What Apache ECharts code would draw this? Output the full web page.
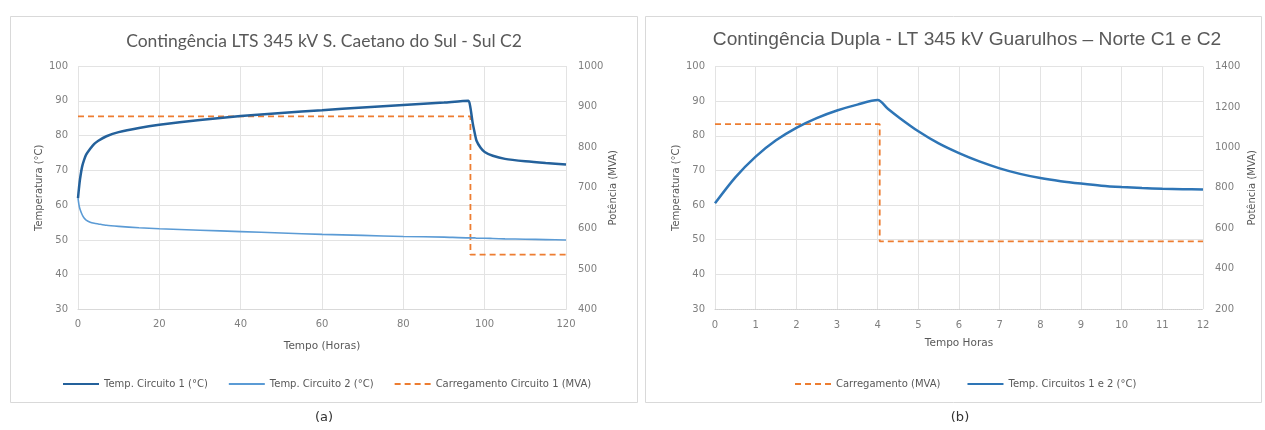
<!DOCTYPE html>
<html>
<head>
<meta charset="utf-8">
<script src="https://cdn.jsdelivr.net/npm/echarts@6/dist/echarts.min.js"></script>
<style>
html,body{margin:0;padding:0;background:#fff;}
#c{width:1265px;height:430px;}
</style>
</head>
<body>
<div id="c"></div>
<script>
// ---- Data: chart (a) ----
const titleA = 'Contingência LTS 345 kV S. Caetano do Sul - Sul C2';
const timeA = [0,0.25,0.5,1,1.5,2,3,4,5,7,10,15,20,30,40,50,60,70,80,90,96,96.5,97,97.5,98,99,100,102,105,110,115,120];
const temp1A = [62,65,67.5,71,73,74.5,76.2,77.6,78.5,79.8,81,82.2,83.1,84.5,85.6,86.5,87.3,88.1,88.8,89.5,90,88,84,81,78.5,76.5,75.3,74.2,73.3,72.6,72.1,71.7];
const temp2A = [62,60,58.8,57.3,56.3,55.7,55.1,54.8,54.6,54.2,53.9,53.5,53.2,52.8,52.4,52,51.6,51.3,51,50.8,50.6,50.6,50.6,50.6,50.5,50.5,50.5,50.4,50.3,50.2,50.1,50];
const loadTimeA = [0,96.5,96.5,120];
const loadA = [876,876,535,535];
const namesA = ['Temp. Circuito 1 (°C)','Temp. Circuito 2 (°C)','Carregamento Circuito 1 (MVA)'];

// ---- Data: chart (b) ----
const titleB = 'Contingência Dupla - LT 345 kV Guarulhos – Norte C1 e C2';
const timeB = [0,0.5,1,1.5,2,2.5,3,3.5,4,4.25,4.5,5,5.5,6,6.5,7,7.5,8,8.5,9,9.5,10,10.5,11,11.5,12];
const tempB = [60.5,68,74,78.7,82.3,85.1,87.3,89,90.3,87.8,85.5,81.3,77.8,75,72.6,70.6,69,67.8,66.9,66.2,65.6,65.2,64.9,64.7,64.6,64.5];
const loadTimeB = [0,4.05,4.05,12];
const loadB = [1115,1115,535,535];
const namesB = ['Carregamento (MVA)','Temp. Circuitos 1 e 2 (°C)'];

const pairs = (xs, ys) => xs.map((x, i) => [x, ys[i]]);

const FONT = '"DejaVu Sans"';
const LBL = '#7f7f7f';
const NAMEC = '#595959';
const GRID = '#e3e3e3';
const DARK = '#24619b';
const MID = '#2e75b6';
const LIGHT = '#5b9bd5';
const ORANGE = '#ed7d31';

function yTemp(gi){
  return {type:'value', gridIndex:gi, min:30, max:100, interval:10, position:'left',
    name:'Temperatura (°C)', nameLocation:'middle', nameGap:34, nameRotate:90,
    nameTextStyle:{color:NAMEC, fontSize:10, fontFamily:FONT},
    axisLine:{show:false}, axisTick:{show:false},
    axisLabel:{color:LBL, fontSize:10, fontFamily:FONT, margin:10},
    splitLine:{show:true, lineStyle:{color:GRID, width:1}}};
}
function yPow(gi, min, max, iv, gap){
  return {type:'value', gridIndex:gi, min:min, max:max, interval:iv, position:'right',
    name:'Potência (MVA)', nameLocation:'middle', nameGap:gap, nameRotate:90,
    nameTextStyle:{color:NAMEC, fontSize:10, fontFamily:FONT},
    axisLine:{show:false}, axisTick:{show:false},
    axisLabel:{color:LBL, fontSize:10, fontFamily:FONT, margin:12, formatter:(v)=>String(v)},
    splitLine:{show:false}};
}
const legendCommon = {top:374, itemWidth:36, itemHeight:8,
  itemStyle:{opacity:0}, textStyle:{color:NAMEC, fontSize:10, fontFamily:FONT}};

const chart = echarts.init(document.getElementById('c'), null, {renderer:'canvas'});
chart.setOption({
  animation:false,
  backgroundColor:'#fff',
  graphic:[
    {type:'rect', shape:{x:10.5, y:16.5, width:627, height:386}, style:{fill:'none', stroke:'#d9d9d9', lineWidth:1}, silent:true},
    {type:'rect', shape:{x:645.5, y:16.5, width:616, height:386}, style:{fill:'none', stroke:'#d9d9d9', lineWidth:1}, silent:true},
    {type:'text', x:324, y:41, style:{text:titleA, fill:'#595959', font:'17.5px Lato', textAlign:'center', textVerticalAlign:'middle'}},
    {type:'text', x:967, y:40, style:{text:titleB, fill:'#595959', font:'19.2px "Liberation Sans"', textAlign:'center', textVerticalAlign:'middle'}},
    {type:'text', x:324, y:418, style:{text:'(a)', fill:'#333', font:'13px "DejaVu Sans"', textAlign:'center', textVerticalAlign:'middle'}},
    {type:'text', x:960, y:418, style:{text:'(b)', fill:'#333', font:'13px "DejaVu Sans"', textAlign:'center', textVerticalAlign:'middle'}}
  ],
  grid:[
    {left:78, top:66, width:488, height:243.5},
    {left:715, top:66.5, width:488, height:242.5}
  ],
  legend:[
    Object.assign({}, legendCommon, {data:namesA, left:57, itemGap:20}),
    Object.assign({}, legendCommon, {data:namesB, left:789, itemGap:26})
  ],
  xAxis:[
    {type:'value', gridIndex:0, min:0, max:120, interval:20,
     name:'Tempo (Horas)', nameLocation:'middle', nameGap:31,
     nameTextStyle:{color:NAMEC, fontSize:10.5, fontFamily:FONT},
     axisLine:{show:true, lineStyle:{color:'#d9d9d9'}}, axisTick:{show:false},
     axisLabel:{color:LBL, fontSize:10, fontFamily:FONT, margin:10},
     splitLine:{show:true, lineStyle:{color:GRID}}},
    {type:'value', gridIndex:1, min:0, max:12, interval:1,
     name:'Tempo Horas', nameLocation:'middle', nameGap:29,
     nameTextStyle:{color:NAMEC, fontSize:10.5, fontFamily:FONT},
     axisLine:{show:true, lineStyle:{color:'#cfcfcf', type:'dotted'}}, axisTick:{show:false},
     axisLabel:{color:LBL, fontSize:10, fontFamily:FONT, margin:11},
     splitLine:{show:true, lineStyle:{color:GRID}}}
  ],
  yAxis:[
    yTemp(0),
    yPow(0, 400, 1000, 100, 42),
    yTemp(1),
    yPow(1, 200, 1400, 200, 44)
  ],
  series:[
    {name:namesA[0], type:'line', xAxisIndex:0, yAxisIndex:0, data:pairs(timeA, temp1A),
     showSymbol:false, symbol:'none', smooth:0.2, lineStyle:{color:DARK, width:2.5}, itemStyle:{color:DARK}, z:4},
    {name:namesA[1], type:'line', xAxisIndex:0, yAxisIndex:0, data:pairs(timeA, temp2A),
     showSymbol:false, symbol:'none', smooth:0.2, lineStyle:{color:LIGHT, width:1.6}, itemStyle:{color:LIGHT}, z:3},
    {name:namesA[2], type:'line', xAxisIndex:0, yAxisIndex:1, data:pairs(loadTimeA, loadA),
     showSymbol:false, symbol:'none', lineStyle:{color:ORANGE, width:1.8, type:[6,4]}, itemStyle:{color:ORANGE}, z:2},
    {name:namesB[0], type:'line', xAxisIndex:1, yAxisIndex:3, data:pairs(loadTimeB, loadB),
     showSymbol:false, symbol:'none', lineStyle:{color:ORANGE, width:1.8, type:[6,4]}, itemStyle:{color:ORANGE}, z:2},
    {name:namesB[1], type:'line', xAxisIndex:1, yAxisIndex:2, data:pairs(timeB, tempB),
     showSymbol:false, symbol:'none', smooth:0.3, lineStyle:{color:MID, width:2.5}, itemStyle:{color:MID}, z:4}
  ]
});
</script>
</body>
</html>
